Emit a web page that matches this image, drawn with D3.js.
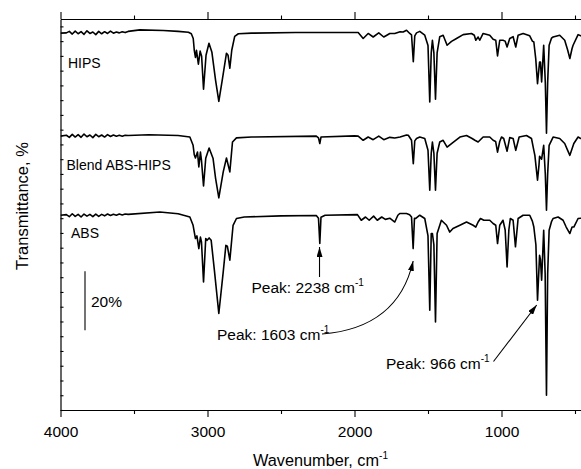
<!DOCTYPE html>
<html><head><meta charset="utf-8">
<script src="https://cdn.jsdelivr.net/npm/d3@7"></script>
<style>
body{margin:0;background:#fff}
svg{display:block}
text{font-family:"Liberation Sans",Arial,Helvetica,sans-serif;fill:#000}
</style>
</head><body>
<svg id="c" width="581" height="469"></svg>
<script>
// ---------------- data ----------------
const seriesNames = ["HIPS", "Blend ABS-HIPS", "ABS"];
const seriesOffsets = [63, 28, 1];   // vertical stacking offsets (% units)

// [wavenumber cm-1, transmittance %]
const hips = [[4000,94.7],[3960,94.8],[3940,95.3],[3920,94.4],[3900,95.4],[3880,94.5],[3860,95.2],[3840,94.3],[3820,95.5],[3800,94.6],[3780,95.1],[3760,94.2],[3740,95.3],[3720,94.5],[3700,95.2],[3680,94.6],[3660,95.4],[3640,94.7],[3620,95.1],[3600,94.8],[3580,95.2],[3560,94.9],[3540,95.3],[3460,95.8],[3300,95.6],[3200,95.3],[3130,95.0],[3110,94.5],[3097,92.9],[3090,88.9],[3082,86.5],[3075,88.9],[3062,84.2],[3050,88.6],[3040,86.9],[3027,75.7],[3010,87.2],[2990,91.3],[2970,88.2],[2945,78.7],[2923,71.6],[2900,78.7],[2871,87.9],[2860,87.2],[2848,82.8],[2835,88.9],[2815,93.6],[2790,94.5],[2700,94.7],[2400,94.9],[1975,94.9],[1941,92.9],[1907,94.6],[1873,93.4],[1835,94.8],[1801,93.4],[1780,94.0],[1760,94.6],[1726,94.6],[1690,95.2],[1669,95.1],[1646,95.7],[1624,94.6],[1612,94.1],[1600,85.0],[1590,93.8],[1578,94.8],[1556,95.3],[1522,94.0],[1500,90.5],[1488,71.4],[1478,88.0],[1470,92.3],[1460,88.0],[1449,72.3],[1438,88.0],[1420,93.5],[1397,94.0],[1370,90.6],[1340,91.9],[1306,92.9],[1261,94.2],[1204,94.6],[1185,94.0],[1175,92.3],[1159,93.4],[1148,92.3],[1125,94.6],[1080,94.0],[1057,92.6],[1039,92.3],[1027,87.0],[1012,92.3],[990,92.3],[975,92.0],[962,90.0],[944,92.9],[921,93.5],[903,90.0],[887,94.0],[853,94.6],[808,93.8],[790,92.0],[780,91.7],[767,86.0],[755,77.6],[741,84.9],[735,84.9],[727,78.2],[713,90.6],[702,78.0],[694,60.8],[686,78.0],[676,90.6],[660,93.0],[649,93.4],[604,94.0],[570,92.3],[550,89.0],[535,86.1],[520,89.5],[513,90.6],[479,94.2],[461,93.8],[400,93.5]];

const blend = [[4000,94.8],[3960,95.1],[3940,94.4],[3920,95.4],[3900,94.5],[3880,95.3],[3860,94.4],[3840,95.5],[3820,94.6],[3800,95.2],[3780,94.3],[3760,95.4],[3740,94.6],[3720,95.2],[3700,94.5],[3680,95.3],[3660,94.7],[3640,95.2],[3620,94.8],[3600,95.1],[3580,94.8],[3560,95.1],[3540,95.0],[3400,95.3],[3200,95.0],[3120,94.5],[3098,91.7],[3090,88.5],[3082,87.4],[3068,89.4],[3059,84.4],[3048,89.4],[3041,86.6],[3027,77.9],[3012,87.3],[2989,90.8],[2962,87.2],[2945,80.5],[2923,73.9],[2893,82.7],[2871,87.4],[2848,82.7],[2830,92.8],[2803,94.2],[2700,94.5],[2260,94.8],[2245,94.2],[2236,92.3],[2228,94.5],[2000,94.9],[1975,94.8],[1941,93.4],[1907,94.5],[1873,93.6],[1835,94.8],[1801,93.6],[1760,94.4],[1726,94.2],[1690,94.5],[1646,95.2],[1634,95.1],[1612,93.4],[1600,85.5],[1590,93.2],[1578,94.0],[1556,94.5],[1522,94.0],[1500,90.0],[1488,76.5],[1478,89.0],[1470,92.8],[1460,89.0],[1449,76.5],[1438,89.0],[1420,92.8],[1397,93.4],[1370,91.1],[1340,92.3],[1283,94.5],[1238,95.0],[1200,94.0],[1181,93.4],[1159,92.8],[1125,94.5],[1080,94.5],[1057,93.4],[1040,93.0],[1027,89.4],[1012,93.0],[1000,94.5],[985,94.0],[962,89.7],[944,94.3],[921,94.0],[903,90.0],[880,94.5],[830,95.0],[796,94.0],[780,90.0],[773,88.3],[755,79.9],[745,85.0],[741,88.0],[727,87.0],[713,91.7],[702,82.0],[694,69.7],[686,82.0],[676,91.7],[649,94.5],[604,94.0],[570,92.3],[550,90.0],[535,88.3],[508,92.3],[479,94.5],[461,94.0],[400,93.5]];

const abs = [[4000,95.0],[3960,95.2],[3940,94.5],[3920,95.5],[3900,94.6],[3880,95.3],[3860,94.4],[3840,95.4],[3820,94.7],[3800,95.3],[3780,94.5],[3760,95.4],[3740,94.6],[3720,95.3],[3700,94.8],[3680,95.4],[3660,94.9],[3640,95.3],[3620,95.0],[3600,95.4],[3580,95.1],[3560,95.4],[3540,95.3],[3324,96.1],[3200,95.5],[3120,94.4],[3098,91.6],[3082,87.1],[3072,88.0],[3059,83.7],[3048,87.6],[3041,86.0],[3027,72.4],[3012,87.1],[3003,86.5],[2989,87.3],[2975,86.5],[2952,75.8],[2923,61.7],[2893,75.8],[2875,84.8],[2865,84.5],[2848,79.8],[2826,91.6],[2803,93.9],[2750,94.4],[2500,94.8],[2260,94.9],[2245,94.0],[2236,85.4],[2228,94.3],[2200,95.0],[1980,95.2],[1954,93.3],[1925,94.4],[1900,93.3],[1870,94.7],[1845,93.3],[1815,94.4],[1790,93.6],[1760,94.0],[1726,92.7],[1705,95.0],[1692,95.6],[1646,95.6],[1625,95.2],[1612,94.4],[1601,83.7],[1592,94.0],[1583,93.9],[1556,95.0],[1522,93.9],[1500,88.0],[1488,62.8],[1478,88.8],[1470,88.8],[1460,85.0],[1449,58.8],[1438,88.8],[1409,93.3],[1374,91.6],[1352,89.3],[1330,90.5],[1283,91.6],[1238,92.7],[1193,91.6],[1175,91.0],[1159,92.7],[1143,93.9],[1120,93.3],[1080,93.3],[1057,92.2],[1039,91.6],[1027,85.4],[1012,91.6],[990,93.3],[975,90.0],[962,77.5],[950,90.0],[940,93.9],[921,93.3],[905,84.3],[887,93.9],[853,95.0],[808,95.0],[790,93.0],[780,91.0],[766,85.0],[755,66.2],[741,81.4],[735,80.0],[727,73.0],[713,89.9],[703,75.0],[694,34.0],[686,75.0],[676,89.9],[660,92.8],[649,93.9],[615,94.4],[581,93.3],[560,91.0],[535,88.8],[520,91.0],[508,91.0],[479,93.9],[461,94.0],[400,94.0]];

const seriesData = [hips, blend, abs];

const xMajorTicks = [4000, 3000, 2000, 1000];
const xMinorTicks = [3500, 2500, 1500, 500];
const yTicks = d3.range(30, 165, 5);
const scaleBar = [57, 77];          // 20 % bar
const peakLabels = ["Peak: 2238 cm", "Peak: 1603 cm", "Peak: 966 cm"];

// ---------------- chart ----------------
const svg = d3.select("#c");
const x = d3.scaleLinear().domain([4000, 400]).range([60.5, 589.7]);
const y = d3.scaleLinear().domain([30, 162.5]).range([410, 19]);

const defs = svg.append("defs");
defs.append("marker").attr("id", "ah")
  .attr("viewBox", "0 0 10 6").attr("refX", 10).attr("refY", 3)
  .attr("markerWidth", 10).attr("markerHeight", 6)
  .attr("markerUnits", "userSpaceOnUse").attr("orient", "auto")
  .append("path").attr("d", "M0,0L10,3L0,6Z").attr("fill", "#000");
defs.append("clipPath").attr("id", "clip").append("rect")
  .attr("x", 60.5).attr("y", 19).attr("width", 530).attr("height", 391);

const fontF = '"Liberation Sans",Arial,Helvetica,sans-serif';

function styleAxis(g) {
  g.attr("font-family", fontF).attr("font-size", 15.5);
  g.selectAll(".domain").attr("stroke", "#000").attr("stroke-width", 1.2);
  g.selectAll(".tick line").attr("stroke", "#000").attr("stroke-width", 1.1);
  g.selectAll(".tick text").attr("fill", "#000");
}

svg.append("g").attr("transform", "translate(0,410)")
  .call(d3.axisBottom(x).tickValues(xMajorTicks).tickSize(7).tickSizeOuter(0).tickPadding(8.5).tickFormat(d3.format("d")))
  .call(styleAxis);
svg.append("g").attr("transform", "translate(0,410)")
  .call(d3.axisBottom(x).tickValues(xMinorTicks).tickSize(4).tickSizeOuter(0).tickFormat(""))
  .call(styleAxis);
svg.append("g").attr("transform", "translate(0,19)")
  .call(d3.axisTop(x).tickValues(xMajorTicks).tickSize(7).tickSizeOuter(0).tickFormat(""))
  .call(styleAxis);
svg.append("g").attr("transform", "translate(0,19)")
  .call(d3.axisTop(x).tickValues(xMinorTicks).tickSize(3.5).tickSizeOuter(0).tickFormat(""))
  .call(styleAxis);
svg.append("g").attr("transform", "translate(60.5,0)")
  .call(d3.axisRight(y).tickValues(yTicks).tickSize(3).tickSizeOuter(0).tickFormat(""))
  .call(styleAxis);

// curves
const plot = svg.append("g").attr("clip-path", "url(#clip)");
seriesData.forEach((data, i) => {
  const line = d3.line()
    .x(d => x(d[0]))
    .y(d => y(d[1] + seriesOffsets[i]));
  plot.append("path").datum(data)
    .attr("d", line)
    .attr("fill", "none").attr("stroke", "#000")
    .attr("stroke-width", 1.6).attr("stroke-linejoin", "round");
});

// series labels
const labelPos = [[68, 68], [66.5, 169.5], [71, 238]];
seriesNames.forEach((n, i) => {
  svg.append("text").attr("x", labelPos[i][0]).attr("y", labelPos[i][1])
    .attr("font-size", 14).text(n);
});

// axis titles
const xt = svg.append("text").attr("x", 253).attr("y", 466).attr("font-size", 16.3);
xt.append("tspan").text("Wavenumber, cm");
xt.append("tspan").attr("dy", -7).attr("font-size", 10).text("-1");

svg.append("text").attr("transform", "translate(28,206) rotate(-90)")
  .attr("text-anchor", "middle").attr("font-size", 16.5).text("Transmittance, %");

// scale bar
svg.append("line").attr("x1", 85).attr("x2", 85)
  .attr("y1", y(scaleBar[0])).attr("y2", y(scaleBar[1]))
  .attr("stroke", "#000").attr("stroke-width", 1.1);
svg.append("text").attr("x", 91).attr("y", 307).attr("font-size", 15.5).text("20%");

// peak annotations
function peakText(px, py, s) {
  const t = svg.append("text").attr("x", px).attr("y", py).attr("font-size", 15.5);
  t.append("tspan").text(s);
  t.append("tspan").attr("dy", -7).attr("font-size", 10).text("-1");
}
peakText(251.5, 293, peakLabels[0]);
peakText(217, 339.5, peakLabels[1]);
peakText(386, 368.5, peakLabels[2]);

// arrow 2238
svg.append("line")
  .attr("x1", x(2238)).attr("y1", 277)
  .attr("x2", x(2238)).attr("y2", 247)
  .attr("stroke", "#000").attr("stroke-width", 1.1).attr("marker-end", "url(#ah)");
// curved arrow 1603
svg.append("path")
  .attr("d", `M322,334 Q398,328 ${x(1601)},261`)
  .attr("fill", "none").attr("stroke", "#000").attr("stroke-width", 1.1).attr("marker-end", "url(#ah)");
// arrow 966
svg.append("line")
  .attr("x1", 493.5).attr("y1", 361.5)
  .attr("x2", 536.7).attr("y2", 305)
  .attr("stroke", "#000").attr("stroke-width", 1.1).attr("marker-end", "url(#ah)");
</script>
</body></html>
